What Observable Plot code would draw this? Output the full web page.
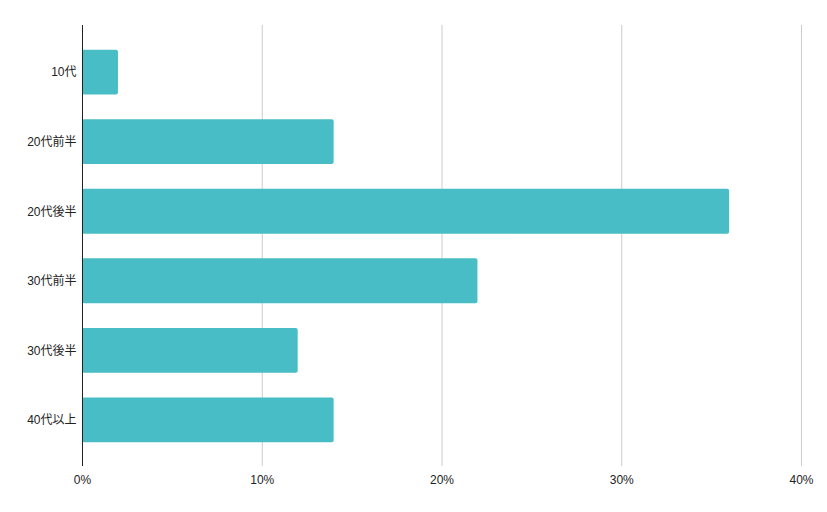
<!DOCTYPE html>
<html>
<head>
<meta charset="utf-8">
<script src="https://cdn.jsdelivr.net/npm/d3@7"></script>
<script src="https://cdn.jsdelivr.net/npm/@observablehq/plot@0.6"></script>
<style>
  html, body { margin: 0; padding: 0; background: #fff; }
  svg { display: block; }
</style>
</head>
<body>
<div id="chart"></div>
<script>
const categories = ["10代", "20代前半", "20代後半", "30代前半", "30代後半", "40代以上"];
const values = [0.02, 0.14, 0.36, 0.22, 0.12, 0.14];
const xTicks = [0, 0.1, 0.2, 0.3, 0.4];

const data = categories.map((c, i) => ({category: c, value: values[i]}));

const chart = Plot.plot({
  width: 827,
  height: 512,
  marginLeft: 82,
  marginRight: 26,
  marginTop: 25,
  marginBottom: 45,
  style: {fontFamily: "'Liberation Sans', Arial, 'Noto Sans CJK JP', sans-serif", fontSize: "12px", color: "#222", background: "#fff"},
  x: {domain: [0, 0.4], ticks: xTicks, tickFormat: d => Math.round(d * 100) + "%"},
  y: {domain: categories, padding: 0.355, round: false},
  marks: [
    Plot.ruleX(xTicks.filter(d => d > 0), {stroke: "#ccc", strokeWidth: 1, insetBottom: 1}),
    Plot.barX(data, {x: "value", y: "category", fill: "#48BDC6", rx: 2}),
    Plot.ruleX([0], {stroke: "#222", strokeWidth: 1, insetBottom: 1}),
    Plot.axisX({ticks: xTicks, tickFormat: d => Math.round(d * 100) + "%", tickSize: 0, tickPadding: 8, label: null, fill: "#222"}),
    Plot.axisY({tickSize: 0, tickPadding: 6, label: null, fill: "#222"})
  ]
});
document.getElementById("chart").appendChild(chart);
</script>
</body>
</html>
